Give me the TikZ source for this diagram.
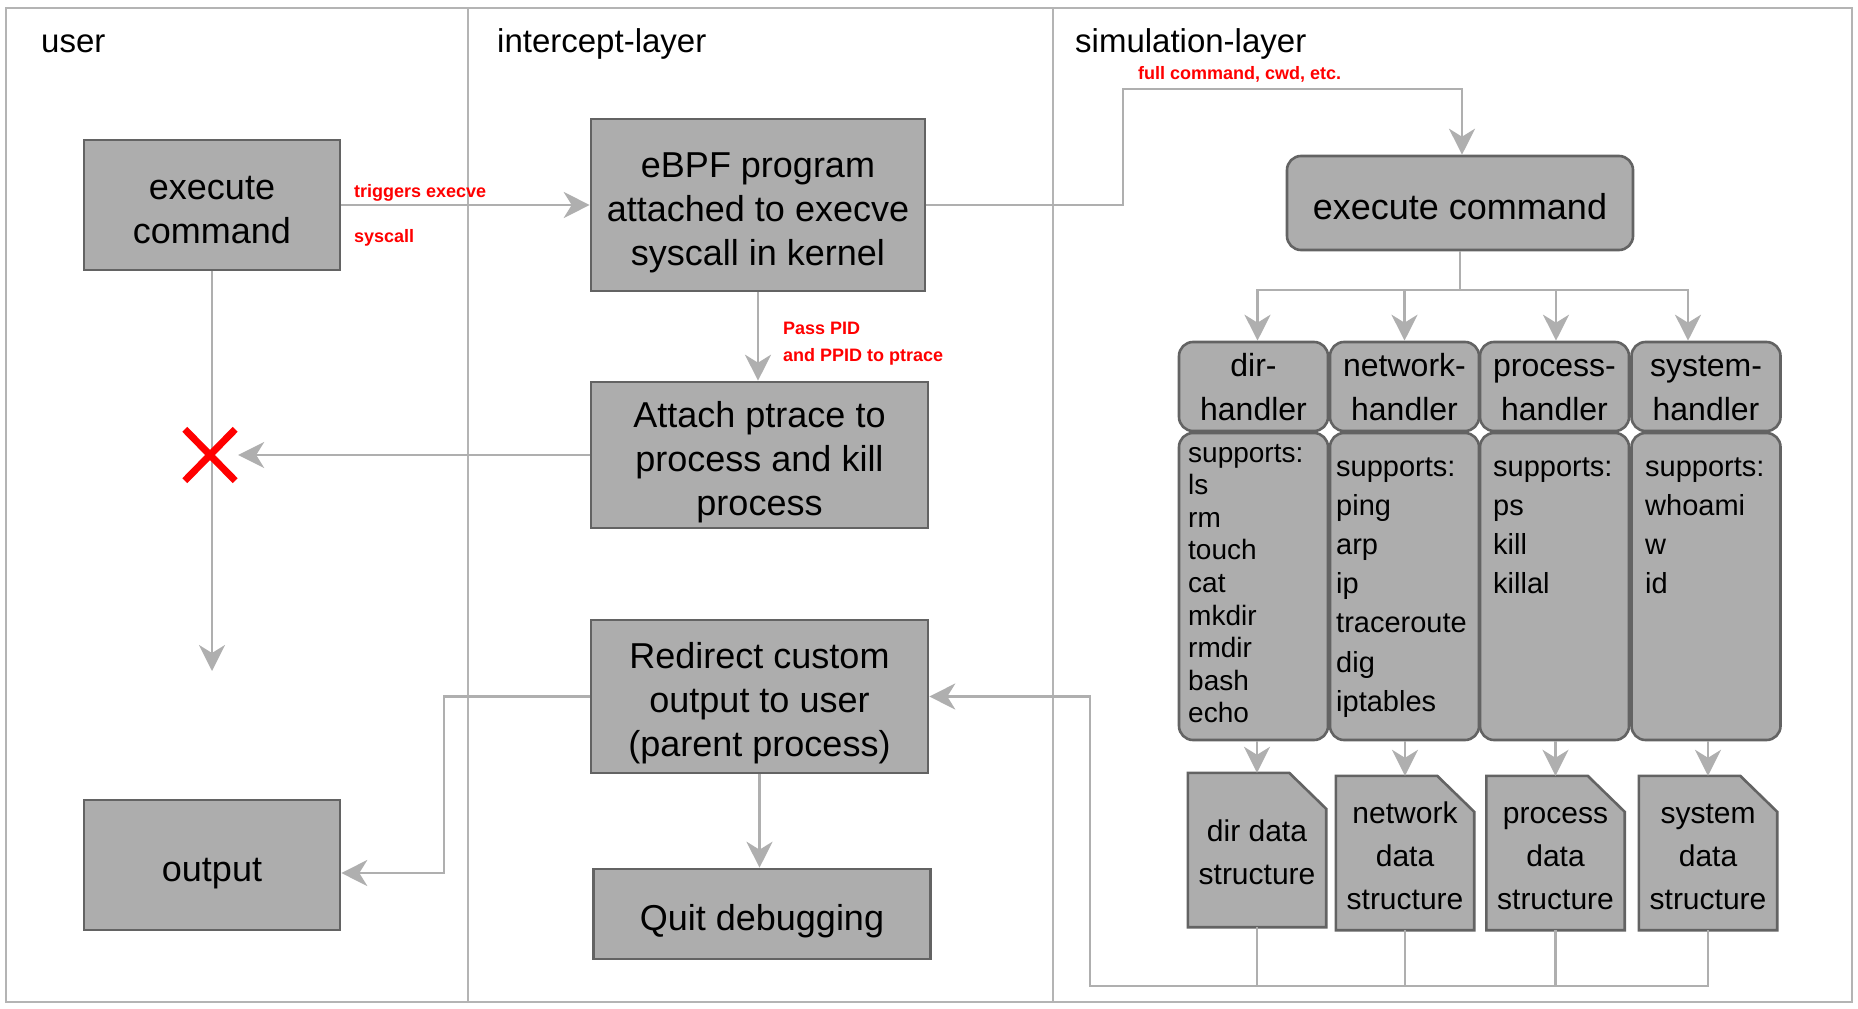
\documentclass[tikz,border=0pt]{standalone}
\usepackage{fontspec}
\setmainfont{Liberation Sans}
\usetikzlibrary{arrows.meta,backgrounds}
\definecolor{boxfill}{HTML}{ADADAD}
\definecolor{boxline}{HTML}{636363}
\definecolor{connc}{HTML}{AFAFAF}
\definecolor{framec}{HTML}{B4B4B4}
\newcommand{\tstr}[1]{\rule{0pt}{#1}}
\newcommand{\bstr}[1]{\rule[-#1]{0pt}{#1}}
\begin{document}
\begin{tikzpicture}[x=1pt,y=-1pt,
 box/.style={draw=boxline, fill=boxfill, line width=2.6pt, inner sep=0pt, align=center, font=\fontsize{36}{44}\selectfont},
 rbox/.style={box, rounded corners=14pt},
 hdr/.style={rbox, minimum width=149pt, minimum height=89pt, font=\fontsize{32}{44}\selectfont},
 bodyb/.style={rbox, minimum width=149pt, minimum height=307pt},
 datab/.style={inner sep=0pt, minimum width=138pt, minimum height=154pt, align=center, font=\fontsize{30}{43}\selectfont},
 datashape/.style={draw=boxline, fill=boxfill, line width=2.6pt, line join=miter},
 lane/.style={draw=framec, line width=2.5pt},
 conn/.style={draw=connc, line width=2.5pt, -{Stealth[length=26pt,width=26pt,inset=8pt]}},
 wire/.style={draw=connc, line width=2.5pt},
 lanetitle/.style={anchor=base west, inner sep=0pt, font=\fontsize{33}{40}\selectfont},
 redlbl/.style={anchor=base west, inner sep=0pt, text=red, font=\bfseries\fontsize{18}{21}\selectfont},
 cmdlist/.style={anchor=base west, inner sep=0pt}
]
\useasboundingbox (0,0) rectangle (1858,1009);

% lane titles
\node[lanetitle] (tuser) at (41,52) {user};
\node[lanetitle] (tinter) at (497,52) {intercept-layer};
\node[lanetitle] (tsim) at (1075,52) {simulation-layer};

% user lane
\node[box, minimum width=256pt, minimum height=130pt] (uexec) at (212,205) {\tstr{40pt}execute\\command\bstr{8pt}};
\node[box, minimum width=256pt, minimum height=130pt] (output) at (212,865) {\tstr{40pt}output\bstr{8pt}};

% intercept lane
\node[box, minimum width=334pt, minimum height=172pt] (ebpf) at (758,205) {\tstr{40pt}eBPF program\\attached to execve\\syscall in kernel\bstr{8pt}};
\node[box, minimum width=337pt, minimum height=146pt] (attach) at (759.5,455) {\tstr{40pt}Attach ptrace to\\process and kill\\process\bstr{8pt}};
\node[box, minimum width=337pt, minimum height=153pt] (redirect) at (759.5,696.5) {\tstr{40pt}Redirect custom\\output to user\\(parent process)\bstr{8pt}};
\node[box, minimum width=337pt, minimum height=90pt] (quit) at (762,914) {\tstr{40pt}Quit debugging\bstr{8pt}};

% simulation lane
\node[rbox, minimum width=346pt, minimum height=94pt] (simexec) at (1460,203) {\tstr{40pt}execute command\bstr{8pt}};

\node[hdr] (hdir) at (1253.5,386.5) {\tstr{32pt}dir-\\handler\bstr{9pt}};
\node[hdr] (hnet) at (1404.5,386.5) {\tstr{32pt}network-\\handler\bstr{9pt}};
\node[hdr] (hproc) at (1554.5,386.5) {\tstr{32pt}process-\\handler\bstr{9pt}};
\node[hdr] (hsys) at (1706,386.5) {\tstr{32pt}system-\\handler\bstr{9pt}};

\node[bodyb] (bdir) at (1253.5,586.5) {};
\node[bodyb] (bnet) at (1404.5,586.5) {};
\node[bodyb] (bproc) at (1554.5,586.5) {};
\node[bodyb] (bsys) at (1706,586.5) {};

\node[cmdlist] (ldir) at (1188,462) {\parbox[t]{138pt}{\fontsize{28}{32.6}\selectfont supports:\\ls\\rm\\touch\\cat\\mkdir\\rmdir\\bash\\echo}};
\node[cmdlist] (lnet) at (1336,476) {\parbox[t]{140pt}{\fontsize{29}{39.2}\selectfont supports:\\ping\\arp\\ip\\traceroute\\dig\\iptables}};
\node[cmdlist] (lproc) at (1493,476) {\parbox[t]{130pt}{\fontsize{29}{39.2}\selectfont supports:\\ps\\kill\\killal}};
\node[cmdlist] (lsys) at (1645,476) {\parbox[t]{130pt}{\fontsize{29}{39.2}\selectfont supports:\\whoami\\w\\id}};

\node[datab] (ddir) at (1257,850) {\tstr{34pt}dir data\\structure\bstr{8pt}};
\node[datab] (dnet) at (1405,853) {\tstr{34pt}network\\data\\structure\bstr{8pt}};
\node[datab] (dproc) at (1555.5,853) {\tstr{34pt}process\\data\\structure\bstr{8pt}};
\node[datab] (dsys) at (1708,853) {\tstr{34pt}system\\data\\structure\bstr{8pt}};

\begin{pgfonlayer}{background}
  \draw[lane] (6,8) rectangle (1852,1002);
  \draw[lane] (468,8) -- (468,1002);
  \draw[lane] (1053,8) -- (1053,1002);
  \foreach \d in {ddir,dnet,dproc,dsys}{
    \draw[datashape] (\d.south west) -- (\d.north west) -- ([xshift=-37pt]\d.north east) -- ([yshift=-36pt]\d.north east) -- (\d.south east) -- cycle;
  }
\end{pgfonlayer}

% red X mark
\node[inner sep=0pt, minimum width=50pt, minimum height=51pt] (xmark) at (210,455) {};

% connectors
\coordinate (uend) at (uexec.south |- 0,671);
\draw[conn] (uexec.south) -- (uend);
\draw[red, line width=7pt] (xmark.north west) -- (xmark.south east) (xmark.north east) -- (xmark.south west);

\draw[conn] (uexec) -- (ebpf);
\node[redlbl] (ltrig) at (354,197) {triggers execve};
\node[redlbl] (lsys2) at (354,242) {syscall};

\draw[conn] (ebpf.south) -- (ebpf.south |- attach.north);
\node[redlbl] (lpass) at (783,334) {Pass PID};
\node[redlbl] (lppid) at (783,361) {and PPID to ptrace};

\draw[conn, shorten >=3pt] (attach.west) -- (xmark.east);

\coordinate (ob) at (444,873);
\draw[conn] (redirect.west) -| (ob) -- (ob -| output.east);
\draw[conn] (redirect.south) -- (redirect.south |- quit.north);

\coordinate (ec) at (1123,89);
\draw[conn] (ebpf.east) -| (ec) -| ([xshift=2pt]simexec.north);
\node[redlbl] (lfull) at (1138,79) {full command, cwd, etc.};

\coordinate (hb) at (1460,290);
\draw[wire] (simexec.south) -- (hb);
\draw[conn] (hb) -| ([xshift=4pt]hdir.north);
\draw[conn] (hb) -| (hnet.north);
\draw[conn] (hb) -| ([xshift=1.5pt]hproc.north);
\draw[conn] (hb) -| ([xshift=-18pt]hsys.north);

\draw[conn] (ddir.north |- bdir.south) -- (ddir.north);
\draw[conn] (dnet.north |- bnet.south) -- (dnet.north);
\draw[conn] (dproc.north |- bproc.south) -- (dproc.north);
\draw[conn] (dsys.north |- bsys.south) -- (dsys.north);

\coordinate (bb) at (1090,986);
\draw[wire] (ddir.south) -- (ddir.south |- bb);
\draw[wire] (dnet.south) -- (dnet.south |- bb);
\draw[wire] (dproc.south) -- (dproc.south |- bb);
\draw[conn] (dsys.south) |- (bb) |- (redirect.east);
\end{tikzpicture}
\end{document}
